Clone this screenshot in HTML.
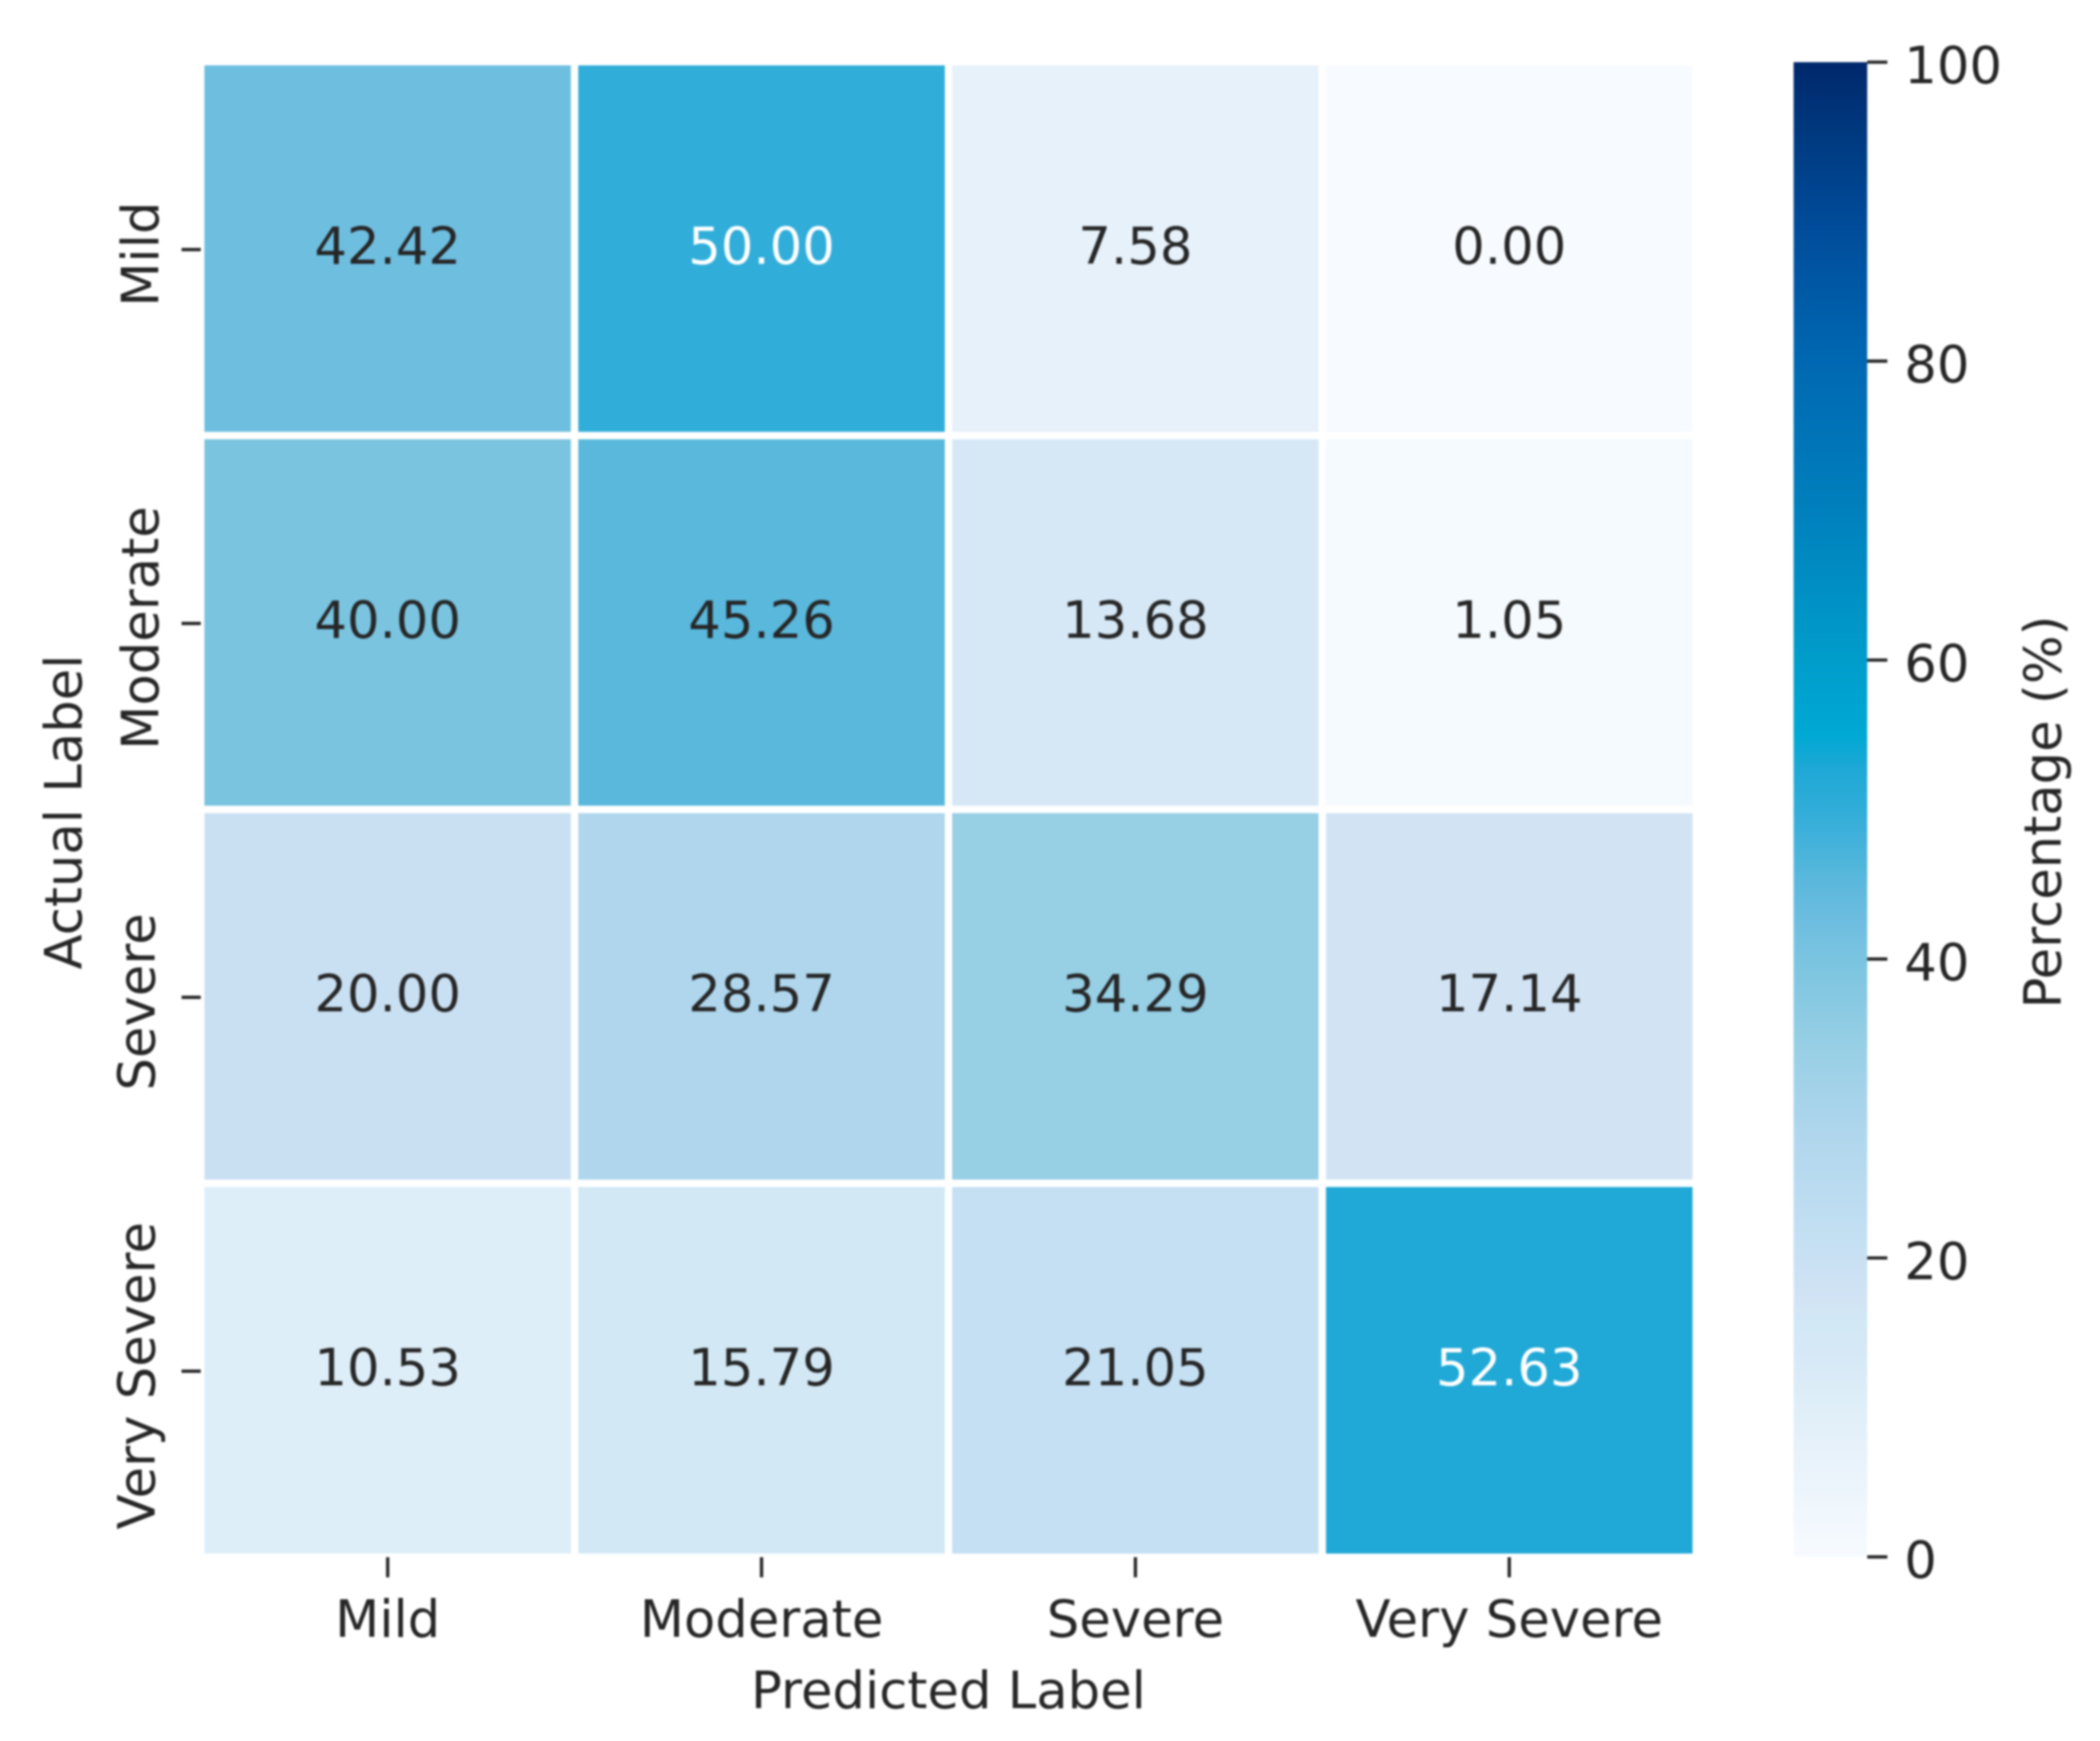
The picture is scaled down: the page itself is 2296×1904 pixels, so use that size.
<!DOCTYPE html>
<html lang="en">
<head>
<meta charset="utf-8">
<title>Confusion matrix heatmap</title>
<style>
  html, body { margin: 0; padding: 0; background: #ffffff; }
  body { width: 2296px; height: 1904px; overflow: hidden; }
  svg { display: block; filter: blur(1px); }
  text { font-family: "DejaVu Sans", "Liberation Sans", sans-serif; font-size: 56px; fill: #262626; }
</style>
</head>
<body>
<svg id="chart" xmlns="http://www.w3.org/2000/svg" width="2296" height="1904" viewBox="0 0 2296 1904">
  <defs>
    <linearGradient id="cbar-gradient" x1="0" y1="1" x2="0" y2="0"></linearGradient>
  </defs>
</svg>
<script>
const xCategories = ['Mild', 'Moderate', 'Severe', 'Very Severe'];
const yCategories = ['Mild', 'Moderate', 'Severe', 'Very Severe'];
const matrixValues = [
  [42.42, 50.00, 7.58, 0.00],
  [40.00, 45.26, 13.68, 1.05],
  [20.00, 28.57, 34.29, 17.14],
  [10.53, 15.79, 21.05, 52.63]
];
const colorbarTicks = [0, 20, 40, 60, 80, 100];
const colorStopValues = [0, 7.6, 10.5, 13.7, 15.8, 17.1, 20, 21, 28.5, 34.3, 40, 42.4, 45.3, 50, 52.6, 55, 60, 70, 80, 89, 95, 100];
const colorStopColors = ['#F7FBFF', '#E6F1FA', '#DEEEF8', '#D6E8F6', '#D2E8F5', '#D2E4F4', '#C9E0F3', '#C5E0F3', '#AFD6ED', '#97CFE5', '#7AC4E0', '#6EBEE0', '#5AB8DC', '#30ADD9', '#20A8D6', '#00A8D4', '#009DCB', '#0080BD', '#0068B2', '#004C9A', '#003A80', '#00286C'];

const svgNS = 'http://www.w3.org/2000/svg';
const svg = document.getElementById('chart');

const plot = { left: 219.5, top: 67.5, width: 1635, height: 1635.5 };
const cbar = { left: 1961, right: 2041.5, top: 68, bottom: 1702.7, min: 0, max: 100 };

function xBand(i) { return plot.left + i * plot.width / xCategories.length; }
function yBand(i) { return plot.top + i * plot.height / yCategories.length; }
function xCenter(i) { return xBand(i + 0.5); }
function yCenter(i) { return yBand(i + 0.5); }
function cbarY(v) { return cbar.bottom - (v - cbar.min) / (cbar.max - cbar.min) * (cbar.bottom - cbar.top); }

function hexToRgb(h) { return [1, 3, 5].map(function (p) { return parseInt(h.substr(p, 2), 16); }); }
function colorFor(v) {
  const n = colorStopValues.length;
  if (v <= colorStopValues[0]) return colorStopColors[0];
  if (v >= colorStopValues[n - 1]) return colorStopColors[n - 1];
  for (let i = 1; i < n; i++) {
    if (v <= colorStopValues[i]) {
      const t = (v - colorStopValues[i - 1]) / (colorStopValues[i] - colorStopValues[i - 1]);
      const a = hexToRgb(colorStopColors[i - 1]);
      const b = hexToRgb(colorStopColors[i]);
      return 'rgb(' + a.map(function (c, k) { return Math.round(c + (b[k] - c) * t); }).join(',') + ')';
    }
  }
}
function make(tag, attrs, parent) {
  const el = document.createElementNS(svgNS, tag);
  for (const k in attrs) el.setAttribute(k, attrs[k]);
  (parent || svg).appendChild(el);
  return el;
}

/* heatmap cells */
const cellsGroup = make('g', {});


matrixValues.forEach(function (row, r) {
  row.forEach(function (v, c) {
    const cell = make('rect', {
      x: xBand(c), y: yBand(r),
      width: xBand(c + 1) - xBand(c), height: yBand(r + 1) - yBand(r),
      fill: colorFor(v), stroke: '#ffffff', 'stroke-width': 8
    }, cellsGroup);
    
    
  });
});

/* annotations */
matrixValues.forEach(function (row, r) {
  row.forEach(function (v, c) {
    const label = make('text', { x: xCenter(c), y: yCenter(r) + 16.5, 'text-anchor': 'middle' });
    label.textContent = v.toFixed(2);
    label.style.fill = v >= 50 ? '#ffffff' : '#262626';
    
    
  });
});

/* x axis */
xCategories.forEach(function (name, i) {
  const tick = make('line', { x1: xCenter(i), x2: xCenter(i), y1: 1703, y2: 1725, stroke: '#262626', 'stroke-width': 3.6 });
  
  
  const label = make('text', { x: xCenter(i), y: 1790, 'text-anchor': 'middle' });
  label.textContent = name;
  
  
});

/* y axis */
yCategories.forEach(function (name, i) {
  const tick = make('line', { x1: 198.5, x2: 219.5, y1: yCenter(i) + 1, y2: yCenter(i) + 1, stroke: '#262626', 'stroke-width': 3.6 });
  
  
  const baseline = i < 2 ? 173 : 169;
  const label = make('text', { 'text-anchor': 'middle', transform: 'translate(' + baseline + ',' + (yCenter(i) + 6) + ') rotate(-90)' });
  label.textContent = name;
  
  
});

/* axis titles */
const xTitle = make('text', { x: 1037, y: 1868, 'text-anchor': 'middle' });
xTitle.textContent = 'Predicted Label';



const yTitle = make('text', { 'text-anchor': 'middle', transform: 'translate(89,888) rotate(-90)' });
yTitle.textContent = 'Actual Label';



/* colorbar */
const gradient = document.getElementById('cbar-gradient');
colorStopValues.forEach(function (v, i) {
  const stop = document.createElementNS(svgNS, 'stop');
  stop.setAttribute('offset', (v - cbar.min) / (cbar.max - cbar.min));
  stop.setAttribute('stop-color', colorStopColors[i]);
  gradient.appendChild(stop);
});
const cbarRect = make('rect', { x: cbar.left, y: cbar.top, width: cbar.right - cbar.left, height: cbar.bottom - cbar.top, fill: 'url(#cbar-gradient)' });



colorbarTicks.forEach(function (v) {
  const tick = make('line', { x1: cbar.right, x2: cbar.right + 22, y1: cbarY(v), y2: cbarY(v), stroke: '#262626', 'stroke-width': 3.6 });
  
  
  const label = make('text', { x: 2082, y: cbarY(v) + 23 });
  label.textContent = String(v);
  
  
});

const cbarTitle = make('text', { 'text-anchor': 'middle', transform: 'translate(2253,888) rotate(-90)' });
cbarTitle.textContent = 'Percentage (%)';


</script>
</body>
</html>
